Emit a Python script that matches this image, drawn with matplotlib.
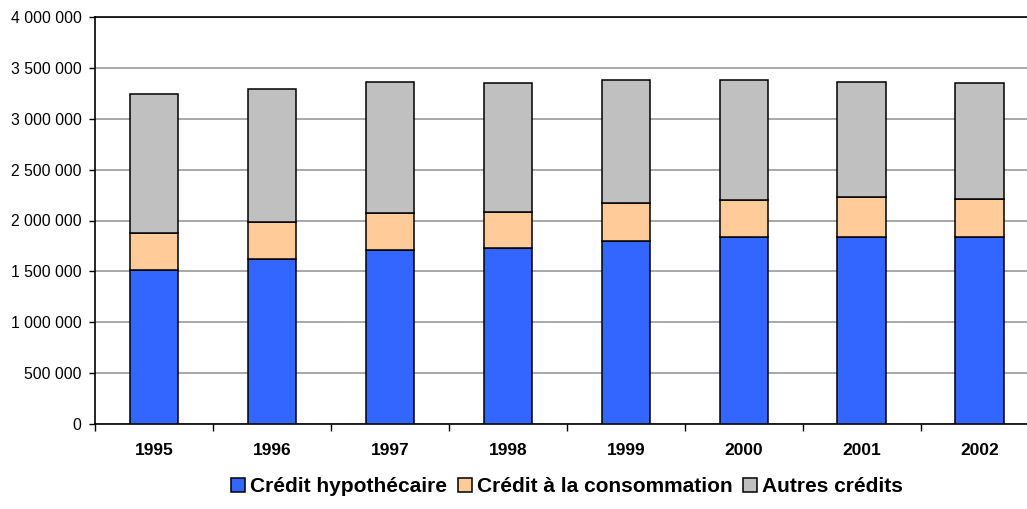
import matplotlib
matplotlib.use('Agg')
import matplotlib.pyplot as plt
from matplotlib.ticker import FuncFormatter, FixedLocator
import numpy as np

# Data
years = ["1995", "1996", "1997", "1998", "1999", "2000", "2001", "2002"]
credit_hypo = [1513000, 1621000, 1707000, 1732000, 1798000, 1835000, 1841000, 1835000]
credit_conso = [361000, 364000, 367000, 355000, 374000, 370000, 393000, 380000]
autres_credits = [1368000, 1306000, 1289000, 1263000, 1211000, 1175000, 1129000, 1142000]

plt.rcParams['font.family'] = ['Liberation Sans', 'DejaVu Sans']

fig = plt.figure(figsize=(10.27, 5.09), dpi=100)
# right edge of the plot area sits just past the picture edge, as in the reference
ax = fig.add_axes([95.3 / 1027, 85.3 / 509, 943.2 / 1027, 406.4 / 509])

x = np.arange(len(years))
width = 0.41
edge = dict(edgecolor='black', linewidth=1.1)

bottom2 = np.array(credit_hypo)
bottom3 = bottom2 + np.array(credit_conso)
ax.bar(x, credit_hypo, width, color='#3366FF', label='Crédit hypothécaire', zorder=3, **edge)
ax.bar(x, credit_conso, width, bottom=bottom2, color='#FFCC99', label='Crédit à la consommation', zorder=3, **edge)
ax.bar(x, autres_credits, width, bottom=bottom3, color='#C0C0C0', label='Autres crédits', zorder=3, **edge)

ax.set_xlim(-0.5, len(years) - 0.5)
ax.set_ylim(0, 4000000)
ax.set_yticks(np.arange(0, 4000001, 500000))
ax.yaxis.set_major_formatter(FuncFormatter(lambda v, p: '{:,.0f}'.format(v).replace(',', ' ')))
ax.yaxis.grid(True, color='#999999', linewidth=1.2, zorder=0)
ax.tick_params(axis='y', length=4, width=1, pad=6, labelsize=11.3)

# category boundaries get the ticks, labels sit on the centres
ax.xaxis.set_major_locator(FixedLocator(np.arange(-0.5, len(years), 1.0)))
ax.xaxis.set_minor_locator(FixedLocator(x))
ax.set_xticklabels([])
ax.set_xticklabels(years, minor=True, fontweight='bold', fontsize=12.5)
ax.tick_params(axis='x', which='major', length=5, width=1)
ax.tick_params(axis='x', which='minor', length=0, pad=14)

for s in ax.spines.values():
    s.set_color('black')
    s.set_linewidth(1.2)

leg = fig.legend(loc='center', bbox_to_anchor=(567 / 1027, 1 - 487 / 509), ncol=3, frameon=False,
                 prop={'weight': 'bold', 'size': 15}, handlelength=0.68, handleheight=0.68,
                 handletextpad=0.25, columnspacing=0.5, borderaxespad=0)

fig.savefig('out.png', dpi=100)
